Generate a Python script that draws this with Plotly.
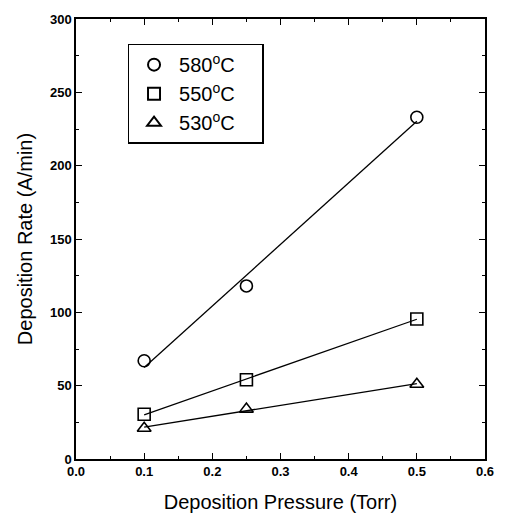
import numpy as np
import plotly.graph_objects as go

pressure = [0.1, 0.25, 0.5]
rate_580 = [67, 118, 233]
rate_550 = [30.5, 54, 95.5]
rate_530 = [21, 34, 51]
labels = ["580<sup>o</sup>C", "550<sup>o</sup>C", "530<sup>o</sup>C"]
symbols = ["circle-open", "square-open", "triangle-up-open"]

fig = go.Figure()
for i, (ys, lab, sym) in enumerate(zip([rate_580, rate_550, rate_530], labels, symbols)):
    k, b = np.polyfit(pressure, ys, 1)
    xf = [pressure[0], pressure[-1]]
    fig.add_trace(go.Scatter(x=xf, y=[k * x + b for x in xf], mode="lines",
                             line=dict(color="black", width=1.3), showlegend=False))
    fig.add_trace(go.Scatter(x=pressure, y=ys, mode="markers",
                             name=lab + "\u00a0\u00a0\u00a0\u00a0",
                             marker=dict(symbol=sym, size=12, color="black",
                                         line=dict(color="black", width=1.6))))

tick_font = dict(family="Liberation Sans", size=13, color="black", weight="bold")
title_font = dict(family="Liberation Sans", size=20, color="black")
axis_common = dict(showline=True, linecolor="black", linewidth=1.5, mirror="ticks",
                   ticks="inside", ticklen=6, tickwidth=1.2, tickcolor="black",
                   showgrid=False, zeroline=False, tickfont=tick_font)

fig.update_xaxes(range=[0, 0.6], dtick=0.1, tickformat=".1f",
                 minor=dict(dtick=0.05, ticks="inside", ticklen=3, tickcolor="black"),
                 title=dict(text="Deposition Pressure (Torr)", font=title_font, standoff=17),
                 **axis_common)
fig.update_yaxes(range=[0, 300], dtick=50,
                 minor=dict(dtick=25, ticks="inside", ticklen=3, tickcolor="black"),
                 title=dict(text="Deposition Rate (A/min)", font=title_font, standoff=12),
                 **axis_common)

fig.update_layout(
    width=506, height=522,
    margin=dict(l=76, r=17, t=15, b=61),
    plot_bgcolor="white", paper_bgcolor="white",
    legend=dict(x=0.126, y=0.944, xanchor="left", yanchor="top",
                bordercolor="black", borderwidth=1.5, bgcolor="white",
                font=dict(family="Liberation Sans", size=20, color="black"),
                itemsizing="constant", itemwidth=40),
)

fig.write_html("out.html")
